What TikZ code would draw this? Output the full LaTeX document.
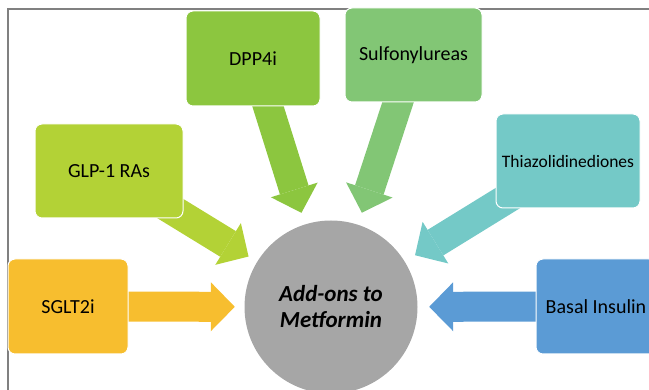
\documentclass[tikz,border=0pt]{standalone}
\usepackage{fontspec}
\setmainfont{Carlito}
\usetikzlibrary{arrows.meta}
\definecolor{cDPP}{HTML}{8CC63F}
\definecolor{cSU}{HTML}{82C675}
\definecolor{cGLP}{HTML}{B3D236}
\definecolor{cTZD}{HTML}{74C9C7}
\definecolor{cSGLT}{HTML}{F7BE2F}
\definecolor{cBAS}{HTML}{5B9BD5}
\definecolor{cCirc}{HTML}{A6A6A6}
\definecolor{cFrame}{HTML}{808080}
\pgfdeclarelayer{bg}
\pgfsetlayers{bg,main}
\begin{document}
\begin{tikzpicture}[x=1pt,y=-1pt,
  drugbox/.style={rectangle, rounded corners=7pt, draw=white, line width=1pt,
    inner sep=0pt, font=\fontsize{20}{24}\selectfont, text=black},
  blockarr/.style={line width=30pt, -{Triangle[length=24pt,width=49pt,line width=0pt]}},
]
\useasboundingbox (0,0) rectangle (649,390);
% boxes
\node[drugbox, fill=cDPP, minimum width=134pt, minimum height=95pt] (dpp) at (253,58.5) {DPP4i};
\node[drugbox, fill=cSU, minimum width=137pt, minimum height=94pt] (su) at (413.5,55) {Sulfonylureas};
\node[drugbox, fill=cGLP, minimum width=148pt, minimum height=94pt] (glp) at (109,171) {GLP-1 RAs};
\node[drugbox, fill=cTZD, minimum width=144pt, minimum height=94pt,
  font=\fontsize{17.5}{21}\selectfont] (tzd) at (568,161) {Thiazolidinediones};
\node[drugbox, fill=cSGLT, minimum width=120pt, minimum height=95pt] (sglt) at (68,306.5) {SGLT2i};
\node[drugbox, fill=cBAS, minimum width=120pt, minimum height=95pt] (bas) at (596,306.5) {\raisebox{-6pt}{Basal Insulin}};
% centre
\node[circle, fill=cCirc, minimum size=173pt, inner sep=0pt, align=center, text=black,
  font=\fontsize{23}{26}\selectfont\bfseries\itshape] (circ) at (331,307) {Add-ons to\\Metformin};
\begin{pgfonlayer}{bg}
  \draw[cFrame, line width=1.5pt] (649,9) -- (8,9) -- (8,390);
  \draw[blockarr, cDPP, shorten >=12pt] (dpp.center) -- (circ);
  \draw[blockarr, cSU, shorten >=12.5pt] (su.center) -- (circ);
  \draw[blockarr, cGLP, shorten >=10pt] (glp.center) -- (circ);
  \draw[blockarr, cTZD, shorten >=12pt] (tzd.center) -- (circ);
  \draw[blockarr, cSGLT, shorten >=9.5pt] (sglt.center) -- (circ);
  \draw[blockarr, cBAS, shorten >=11.5pt] (bas.center) -- (circ);
\end{pgfonlayer}
\end{tikzpicture}
\end{document}
